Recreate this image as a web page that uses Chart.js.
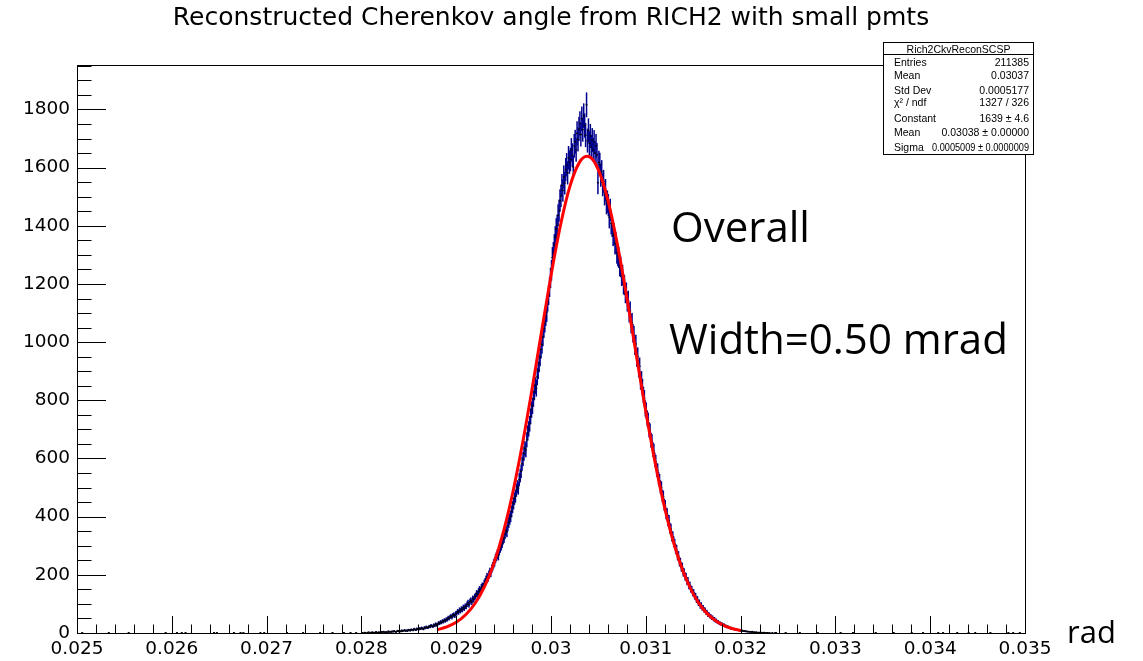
<!DOCTYPE html>
<html>
<head>
<meta charset="utf-8">
<title>Cherenkov angle RICH2</title>
<script src="https://cdn.jsdelivr.net/npm/chart.js@4.4.1/dist/chart.umd.min.js"></script>
<style>
  html, body { margin: 0; padding: 0; background: #fff; }
  #wrap { width: 1143px; height: 661px; position: relative; }
</style>
</head>
<body>
<div id="wrap"><canvas id="cherenkov"></canvas></div>
<script>
// histogram: 1000 bins of 1e-5 rad between 0.025 and 0.035
const binWidth = 0.00001;
const firstBin = 0.0280;   // low edge of the first bin listed in counts
const counts = [
  0,1,0,2,1,0,1,3,0,2,            // 0.0280
  1,3,2,0,2,4,1,2,3,1,
  2,4,3,5,1,3,4,2,6,3,
  5,3,6,4,7,5,3,6,8,5,
  7,5,9,6,8,10,7,9,6,11,
  10,8,12,11,9,14,12,10,15,13,    // 0.0285
  12,16,14,18,15,13,19,17,21,18,
  19,23,21,26,24,22,28,25,31,27,
  30,35,33,38,36,41,39,44,42,47,
  46,52,50,55,58,54,61,63,59,67,
  68,74,71,79,76,83,80,88,85,92,  // 0.0290
  91,99,104,97,108,112,106,118,115,124,
  127,136,133,142,149,145,156,161,158,170,
  176,184,193,189,201,210,206,221,229,238,
  244,256,263,270,266,285,293,301,310,322,
  328,341,352,348,369,381,392,401,418,433,   // 0.0295
  446,462,470,491,503,498,527,541,556,582,
  598,617,635,629,664,688,702,719,745,768,
  781,806,829,851,842,881,903,927,948,975,
  992,1018,1047,1066,1089,1103,1139,1162,1190,1221,
  1247,1291,1308,1335,1362,1389,1401,1436,1452,1487,   // 0.0300
  1503,1539,1522,1568,1547,1593,1610,1582,1634,1619,
  1628,1661,1643,1602,1675,1689,1661,1718,1697,1733,
  1752,1714,1768,1731,1779,1745,1712,1816,1693,1728,
  1684,1709,1672,1695,1661,1688,1650,1675,1644,1548,
  1618,1611,1574,1586,1541,1553,1509,1522,1478,1483,   // 0.0305
  1471,1429,1455,1408,1399,1367,1372,1338,1341,1306,
  1297,1291,1262,1259,1228,1231,1199,1196,1168,1171,
  1139,1143,1101,1107,1063,1068,1031,1024,987,994,
  946,951,909,917,866,871,845,818,807,772,
  765,738,731,699,694,663,658,631,626,596,   // 0.0310
  588,561,559,531,524,502,499,471,468,441,
  436,411,409,387,386,360,357,333,331,314,
  306,289,286,266,265,245,243,226,227,209,
  208,194,193,178,179,163,164,151,150,138,
  139,126,127,114,116,103,105,93,96,86,      // 0.0315
  87,79,79,71,71,63,64,58,58,52,
  53,47,48,42,43,38,38,33,34,30,
  31,27,28,24,24,21,22,19,18,16,
  17,15,14,13,13,11,10,10,9,8,
  8,9,7,6,7,5,6,4,5,4,                       // 0.0320
  4,3,5,2,3,2,3,1,2,2,
  1,2,1,0,2,1,0,1,1,0,
  1,0,0,1,0,0,0,1,0,0
];
// lone single-entry bins far out in the tails (bin centres)
const strayBins = [
  0.025055, 0.025335, 0.025545, 0.025935, 0.026055, 0.026105, 0.026145,
  0.026445, 0.026475, 0.026655, 0.026725, 0.026755, 0.026935, 0.026975,
  0.027215, 0.027385, 0.027565, 0.027695, 0.027815, 0.027885, 0.027945,
  0.032365, 0.032475, 0.032625, 0.032815, 0.033055, 0.033185, 0.033425,
  0.033615, 0.033805, 0.033925, 0.034085, 0.034135, 0.034285, 0.034405,
  0.034475, 0.034635, 0.034825, 0.034875, 0.034945
];

// gaussian fit curve (Constant 1639, Mean 0.03038, Sigma 0.0005009)
const fitX = [0.0288, 0.0289, 0.0290, 0.0291, 0.0292, 0.0293, 0.0294, 0.0295, 0.0296, 0.0297,
              0.0298, 0.0299, 0.0300, 0.0301, 0.0302, 0.0303, 0.03038, 0.0304, 0.0305, 0.0306,
              0.0307, 0.0308, 0.0309, 0.0310, 0.0311, 0.0312, 0.0313, 0.0314, 0.0315, 0.0316,
              0.0317, 0.0318, 0.0319, 0.0320];
const fitY = [11.3, 20.9, 36.8, 62.6, 102.2, 160.3, 241.8, 350.3, 487.5, 652.2,
              838.4, 1035.5, 1229.2, 1402.0, 1536.5, 1618.2, 1639.0, 1638.3, 1592.6, 1488.2,
              1336.4, 1153.2, 956.1, 761.9, 583.3, 429.2, 303.4, 206.2, 134.6, 84.4,
              50.9, 29.5, 16.4, 8.8];

const xTicks = [0.025, 0.026, 0.027, 0.028, 0.029, 0.030, 0.031, 0.032, 0.033, 0.034, 0.035];
const xTickLabels = ['0.025', '0.026', '0.027', '0.028', '0.029', '0.03', '0.031', '0.032', '0.033', '0.034', '0.035'];
const yTicks = [0, 200, 400, 600, 800, 1000, 1200, 1400, 1600, 1800];

const statsTitle = 'Rich2CkvReconSCSP';
const statsRows = [
  ['Entries', '211385'],
  ['Mean', '0.03037'],
  ['Std Dev', '0.0005177'],
  ['\u03c7\u00b2 / ndf', '1327 / 326'],
  ['Constant', '1639 \u00b1 4.6'],
  ['Mean', '0.03038 \u00b1 0.00000'],
  ['Sigma', '0.0005009 \u00b1 0.0000009']
];

// build histogram points, empty bins are not drawn
const histPoints = [];
counts.forEach((c, i) => {
  if (c > 0) histPoints.push({ x: firstBin + (i + 0.5) * binWidth, y: c });
});
strayBins.forEach(x => histPoints.push({ x: x, y: 1 }));

const fitPoints = fitX.map((x, i) => ({ x: x, y: fitY[i] }));

// vertical error bars + dot markers for the histogram dataset
const errorBars = {
  id: 'errorBars',
  afterDatasetDraw(chart, args) {
    if (args.index !== 0) return;
    const { ctx, chartArea, scales: { x, y } } = chart;
    const pts = chart.data.datasets[0].data;
    ctx.save();
    ctx.beginPath();
    ctx.rect(chartArea.left, chartArea.top, chartArea.width, chartArea.height);
    ctx.clip();
    ctx.fillStyle = '#00008f';
    pts.forEach(p => {
      const err = Math.sqrt(p.y);
      const px = x.getPixelForValue(p.x);
      const top = y.getPixelForValue(p.y + err);
      const bot = y.getPixelForValue(p.y - err);
      ctx.fillRect(px - 0.75, top, 1.5, Math.max(bot - top, 0.6));
    });
    ctx.fillStyle = '#000';
    pts.forEach(p => {
      const px = x.getPixelForValue(p.x);
      ctx.fillRect(px - 1, y.getPixelForValue(p.y) - 0.6, 2, 1.2);
    });
    ctx.restore();
  }
};

// ROOT style frame with inward major/minor ticks
const frameTicks = {
  id: 'frameTicks',
  afterDatasetsDraw(chart) {
    const { ctx, chartArea: a, scales: { x, y } } = chart;
    ctx.save();
    ctx.strokeStyle = '#000';
    ctx.lineWidth = 1;
    ctx.strokeRect(a.left + 0.5, a.top + 0.5, a.right - a.left, a.bottom - a.top);
    ctx.beginPath();
    for (let v = 0; v <= y.max; v += 50) {
      const py = Math.round(y.getPixelForValue(v)) + 0.5;
      const len = v % 200 === 0 ? 29 : 14.5;
      ctx.moveTo(a.left, py);
      ctx.lineTo(a.left + len, py);
    }
    for (let k = 0; k <= 50; k++) {
      const px = Math.round(x.getPixelForValue(0.025 + k * 0.0002)) + 0.5;
      const len = k % 5 === 0 ? 17 : 8.5;
      ctx.moveTo(px, a.bottom);
      ctx.lineTo(px, a.bottom - len);
    }
    ctx.stroke();
    ctx.restore();
  }
};

// statistics box and slide annotations
const overlay = {
  id: 'overlay',
  afterDraw(chart) {
    const ctx = chart.ctx;
    ctx.save();
    const bx = 883.5, by = 42.5, bw = 150, bh = 112;
    ctx.fillStyle = '#fff';
    ctx.fillRect(bx, by, bw, bh);
    ctx.strokeStyle = '#000';
    ctx.lineWidth = 1;
    ctx.strokeRect(bx, by, bw, bh);
    ctx.beginPath();
    ctx.moveTo(bx, 54.5);
    ctx.lineTo(bx + bw, 54.5);
    ctx.stroke();

    ctx.fillStyle = '#000';
    ctx.font = '10.5px "Liberation Sans", Arial, sans-serif';
    ctx.textBaseline = 'alphabetic';
    ctx.textAlign = 'center';
    ctx.fillText(statsTitle, bx + bw / 2, 52.5);
    const baselines = [66, 78.5, 94, 106, 122, 135.5, 150.5];
    statsRows.forEach((row, i) => {
      ctx.textAlign = 'left';
      ctx.fillText(row[0], 894, baselines[i]);
      ctx.textAlign = 'right';
      ctx.fillText(row[1], 1029, baselines[i], 97);
    });

    ctx.textAlign = 'left';
    ctx.font = '42px "Open Sans", "Noto Sans", sans-serif';
    ctx.fillText('Overall', 671, 242);
    ctx.fillText('Width=0.50 mrad', 669, 354);
    ctx.font = '31px "Open Sans", "Noto Sans", sans-serif';
    ctx.fillText('rad', 1067, 643);
    ctx.restore();
  }
};

new Chart(document.getElementById('cherenkov'), {
  type: 'scatter',
  data: {
    datasets: [
      {
        label: 'Rich2CkvReconSCSP',
        data: histPoints,
        pointRadius: 0,
        showLine: false,
        order: 1
      },
      {
        label: 'gaus',
        data: fitPoints,
        showLine: true,
        borderColor: '#ff0000',
        borderWidth: 3,
        pointRadius: 0,
        cubicInterpolationMode: 'monotone',
        fill: false,
        order: 0
      }
    ]
  },
  options: {
    responsive: true,
    maintainAspectRatio: false,
    animation: false,
    events: [],
    layout: { padding: { left: 0, right: 118, top: 0, bottom: 0 } },
    plugins: {
      legend: { display: false },
      tooltip: { enabled: false },
      title: {
        display: true,
        text: 'Reconstructed Cherenkov angle from RICH2 with small pmts',
        color: '#000',
        fullSize: false,
        font: { family: '"DejaVu Sans", sans-serif', size: 25, weight: 'normal', lineHeight: 1.2 },
        padding: { top: 3, bottom: 32 }
      }
    },
    scales: {
      x: {
        type: 'linear',
        min: 0.025,
        max: 0.035,
        grid: { display: false, drawTicks: false },
        border: { display: false },
        afterBuildTicks: s => { s.ticks = xTicks.map(v => ({ value: v })); },
        afterFit: s => { s.height = 28; },
        ticks: {
          autoSkip: false,
          maxRotation: 0,
          padding: 5,
          color: '#000',
          font: { family: '"DejaVu Sans", sans-serif', size: 18.5 },
          callback: (v, i) => xTickLabels[i]
        }
      },
      y: {
        min: 0,
        max: 1953,
        grid: { display: false, drawTicks: false },
        border: { display: false },
        afterBuildTicks: s => { s.ticks = yTicks.map(v => ({ value: v })); },
        afterFit: s => { s.width = 77; },
        ticks: {
          padding: 7,
          color: '#000',
          font: { family: '"DejaVu Sans", sans-serif', size: 18.5 },
          callback: v => String(v)
        }
      }
    }
  },
  plugins: [errorBars, frameTicks, overlay]
});
</script>
</body>
</html>
